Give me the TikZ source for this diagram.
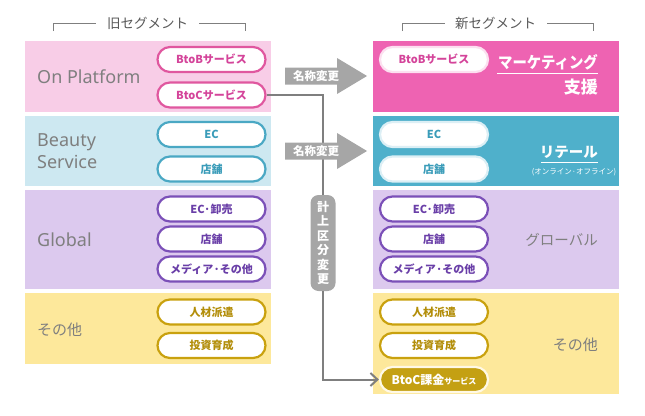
\documentclass[tikz,border=0pt]{standalone}
\usepackage{fontspec}
\setmainfont{Noto Sans CJK JP}
\newfontfamily\latfont{Noto Sans}
\usetikzlibrary{shapes.misc,arrows.meta}
\definecolor{pkL}{HTML}{F8CDE7}
\definecolor{pkD}{HTML}{EE63B2}
\definecolor{pkB}{HTML}{E0579F}
\definecolor{pkT}{HTML}{D4449A}
\definecolor{blL}{HTML}{CDE8F1}
\definecolor{blD}{HTML}{4FB0CB}
\definecolor{blB}{HTML}{4AA8C4}
\definecolor{blT}{HTML}{3A9CB9}
\definecolor{puL}{HTML}{DCC9EE}
\definecolor{puB}{HTML}{7B50B8}
\definecolor{puT}{HTML}{6A3FA8}
\definecolor{yeL}{HTML}{FDE89B}
\definecolor{yeB}{HTML}{C9A10E}
\definecolor{yeT}{HTML}{B38E0A}
\definecolor{yeF}{HTML}{C4A013}
\definecolor{grA}{HTML}{A6A6A6}
\definecolor{grL}{HTML}{7F7F7F}
\definecolor{grT}{HTML}{595959}
\begin{document}
\begin{tikzpicture}[x=1pt,y=-1pt,
  panel/.style={rectangle, inner sep=0pt, minimum width=246pt},
  pill/.style={rounded rectangle, minimum width=108pt, minimum height=25pt, inner sep=0pt,
     line width=2.2pt, fill=white, font=\bfseries\fontsize{11}{11}\selectfont},
  pinkpill/.style={pill, draw=pkB, text=pkT},
  bluepill/.style={pill, draw=blB, text=blT},
  purppill/.style={pill, draw=puB, text=puT},
  yelpill/.style={pill, draw=yeB, text=yeT},
  seglabel/.style={text=grL, inner sep=0pt, font=\latfont\fontsize{18}{22.5}\selectfont},
  jplabel/.style={text=grL, inner sep=0pt, font=\fontsize{15}{15}\selectfont},
  header/.style={text=grT, inner sep=0pt, font=\fontsize{13.5}{13.5}\selectfont},
  bracket/.style={draw=grL, line width=0.8pt},
  bigarrow/.style={fill=grA},
  arrowtext/.style={text=white, inner sep=0pt, font=\bfseries\fontsize{11.5}{11.5}\selectfont},
  conn/.style={draw=grL, line width=2pt}
]
\useasboundingbox (0,0) rectangle (645,415);

% headers
\node[header] (hold) at (147.5,23) {旧セグメント};
\node[header] (hnew) at (495.5,23) {新セグメント};
\draw[bracket] (53,31) -- (53,23) -- (96,23);
\draw[bracket] (199,23) -- (245,23) -- (245,31);
\draw[bracket] (402,31) -- (402,23) -- (445,23);
\draw[bracket] (547,23) -- (593,23) -- (593,31);

% left panels
\node[panel, fill=pkL, minimum height=71pt] (lop) at (148,76.5) {};
\node[panel, fill=blL, minimum height=70pt] (lbs) at (148,151) {};
\node[panel, fill=puL, minimum height=99pt] (lgl) at (148,239.5) {};
\node[panel, fill=yeL, minimum height=71pt] (lot) at (148,328.5) {};

% right panels
\node[panel, fill=pkD, minimum height=71pt] (rmk) at (496,76.5) {};
\node[panel, fill=blD, minimum height=70pt] (rrt) at (496,151) {};
\node[panel, fill=puL, minimum height=99pt] (rgl) at (496,239.5) {};
\node[panel, fill=yeL, minimum height=101pt] (rot) at (496,343.5) {};

% left labels
\node[seglabel, anchor=west] (tOP) at (37,77) {On Platform};
\node[seglabel, anchor=west, align=left] (tBS) at (37,151) {Beauty\\Service};
\node[seglabel, anchor=west] (tGL) at (37,240) {Global};
\node[jplabel, anchor=west] (tOT) at (37,330) {その他};

% right labels
\node[text=white, inner sep=0pt, anchor=east, font=\bfseries\fontsize{16}{16}\selectfont] (tMK1) at (598,62) {\scalebox{0.9}[1]{マーケティング}};
\draw[white, line width=1pt] (497,73.5) -- (598,73.5);
\node[text=white, inner sep=0pt, anchor=east, font=\bfseries\fontsize{17}{17}\selectfont] (tMK2) at (598,87) {支援};
\node[text=white, inner sep=0pt, anchor=east, font=\bfseries\fontsize{14.5}{14.5}\selectfont] (tRT1) at (598,152) {リテール};
\draw[white, line width=1pt] (541,162.5) -- (598,162.5);
\node[text=white, inner sep=0pt, font=\fontsize{7.5}{7.5}\selectfont] (tRT2) at (574,172) {(オンライン·オフライン)};
\node[jplabel, anchor=east, font=\fontsize{14.5}{14.5}\selectfont] (tGL2) at (598,240) {グローバル};
\node[jplabel, anchor=east] (tOT2) at (598,345) {その他};

% left pills
\node[pinkpill] (lbtob) at (211.5,59.5) {BtoBサービス};
\node[pinkpill] (lbtoc) at (211.5,95) {BtoCサービス};
\node[bluepill] (lec) at (211.5,134.5) {EC};
\node[bluepill] (lst) at (211.5,169) {店舗};
\node[purppill] (lgec) at (211.5,209) {EC·卸売};
\node[purppill] (lgst) at (211.5,239) {店舗};
\node[purppill] (lgmd) at (211.5,269) {メディア·その他};
\node[yelpill] (ljin) at (211.5,312) {人材派遣};
\node[yelpill] (ltou) at (211.5,345.5) {投資育成};

% right pills
\node[pill, draw=white!80!pkD, text=pkT] (rbtob) at (434,59.5) {BtoBサービス};
\node[pill, draw=white!80!blD, text=blT] (rec) at (434,134.5) {EC};
\node[pill, draw=white!80!blD, text=blT] (rst) at (434,169) {店舗};
\node[purppill] (rgec) at (434,209) {EC·卸売};
\node[purppill] (rgst) at (434,239) {店舗};
\node[purppill] (rgmd) at (434,269) {メディア·その他};
\node[yelpill] (rjin) at (434,312) {人材派遣};
\node[yelpill] (rtou) at (434,345.5) {投資育成};
\node[pill, fill=yeF, draw=white!75!yeL, text=white] (rkakin) at (434,379.5)
  {{\fontsize{12}{12}\selectfont BtoC課金}{\fontsize{8}{8}\selectfont サービス}};

% reclassification connector
\node[rounded corners=8pt, fill=grA, minimum width=25pt, minimum height=96pt, inner sep=0pt,
  text=white, align=center, font=\bfseries\fontsize{12}{14.5}\selectfont] (vpill) at (323,243)
  {計\\上\\区\\分\\変\\更};
\draw[conn] (lbtoc.east) -| (vpill.north);
\draw[conn, -{Straight Barb[length=7pt,width=13pt]}] (vpill.south) |- (rkakin.west);

% rename arrows (drawn over the connector)
\fill[bigarrow] (285,67.5) -- (337,67.5) -- (337,58) -- (367,76) -- (337,94) -- (337,84.5) -- (285,84.5) -- cycle;
\node[arrowtext] (ren1) at (316,76) {名称変更};
\fill[bigarrow] (285,142.5) -- (337,142.5) -- (337,133) -- (367,151) -- (337,169) -- (337,159.5) -- (285,159.5) -- cycle;
\node[arrowtext] (ren2) at (316,151) {名称変更};
\end{tikzpicture}
\end{document}
